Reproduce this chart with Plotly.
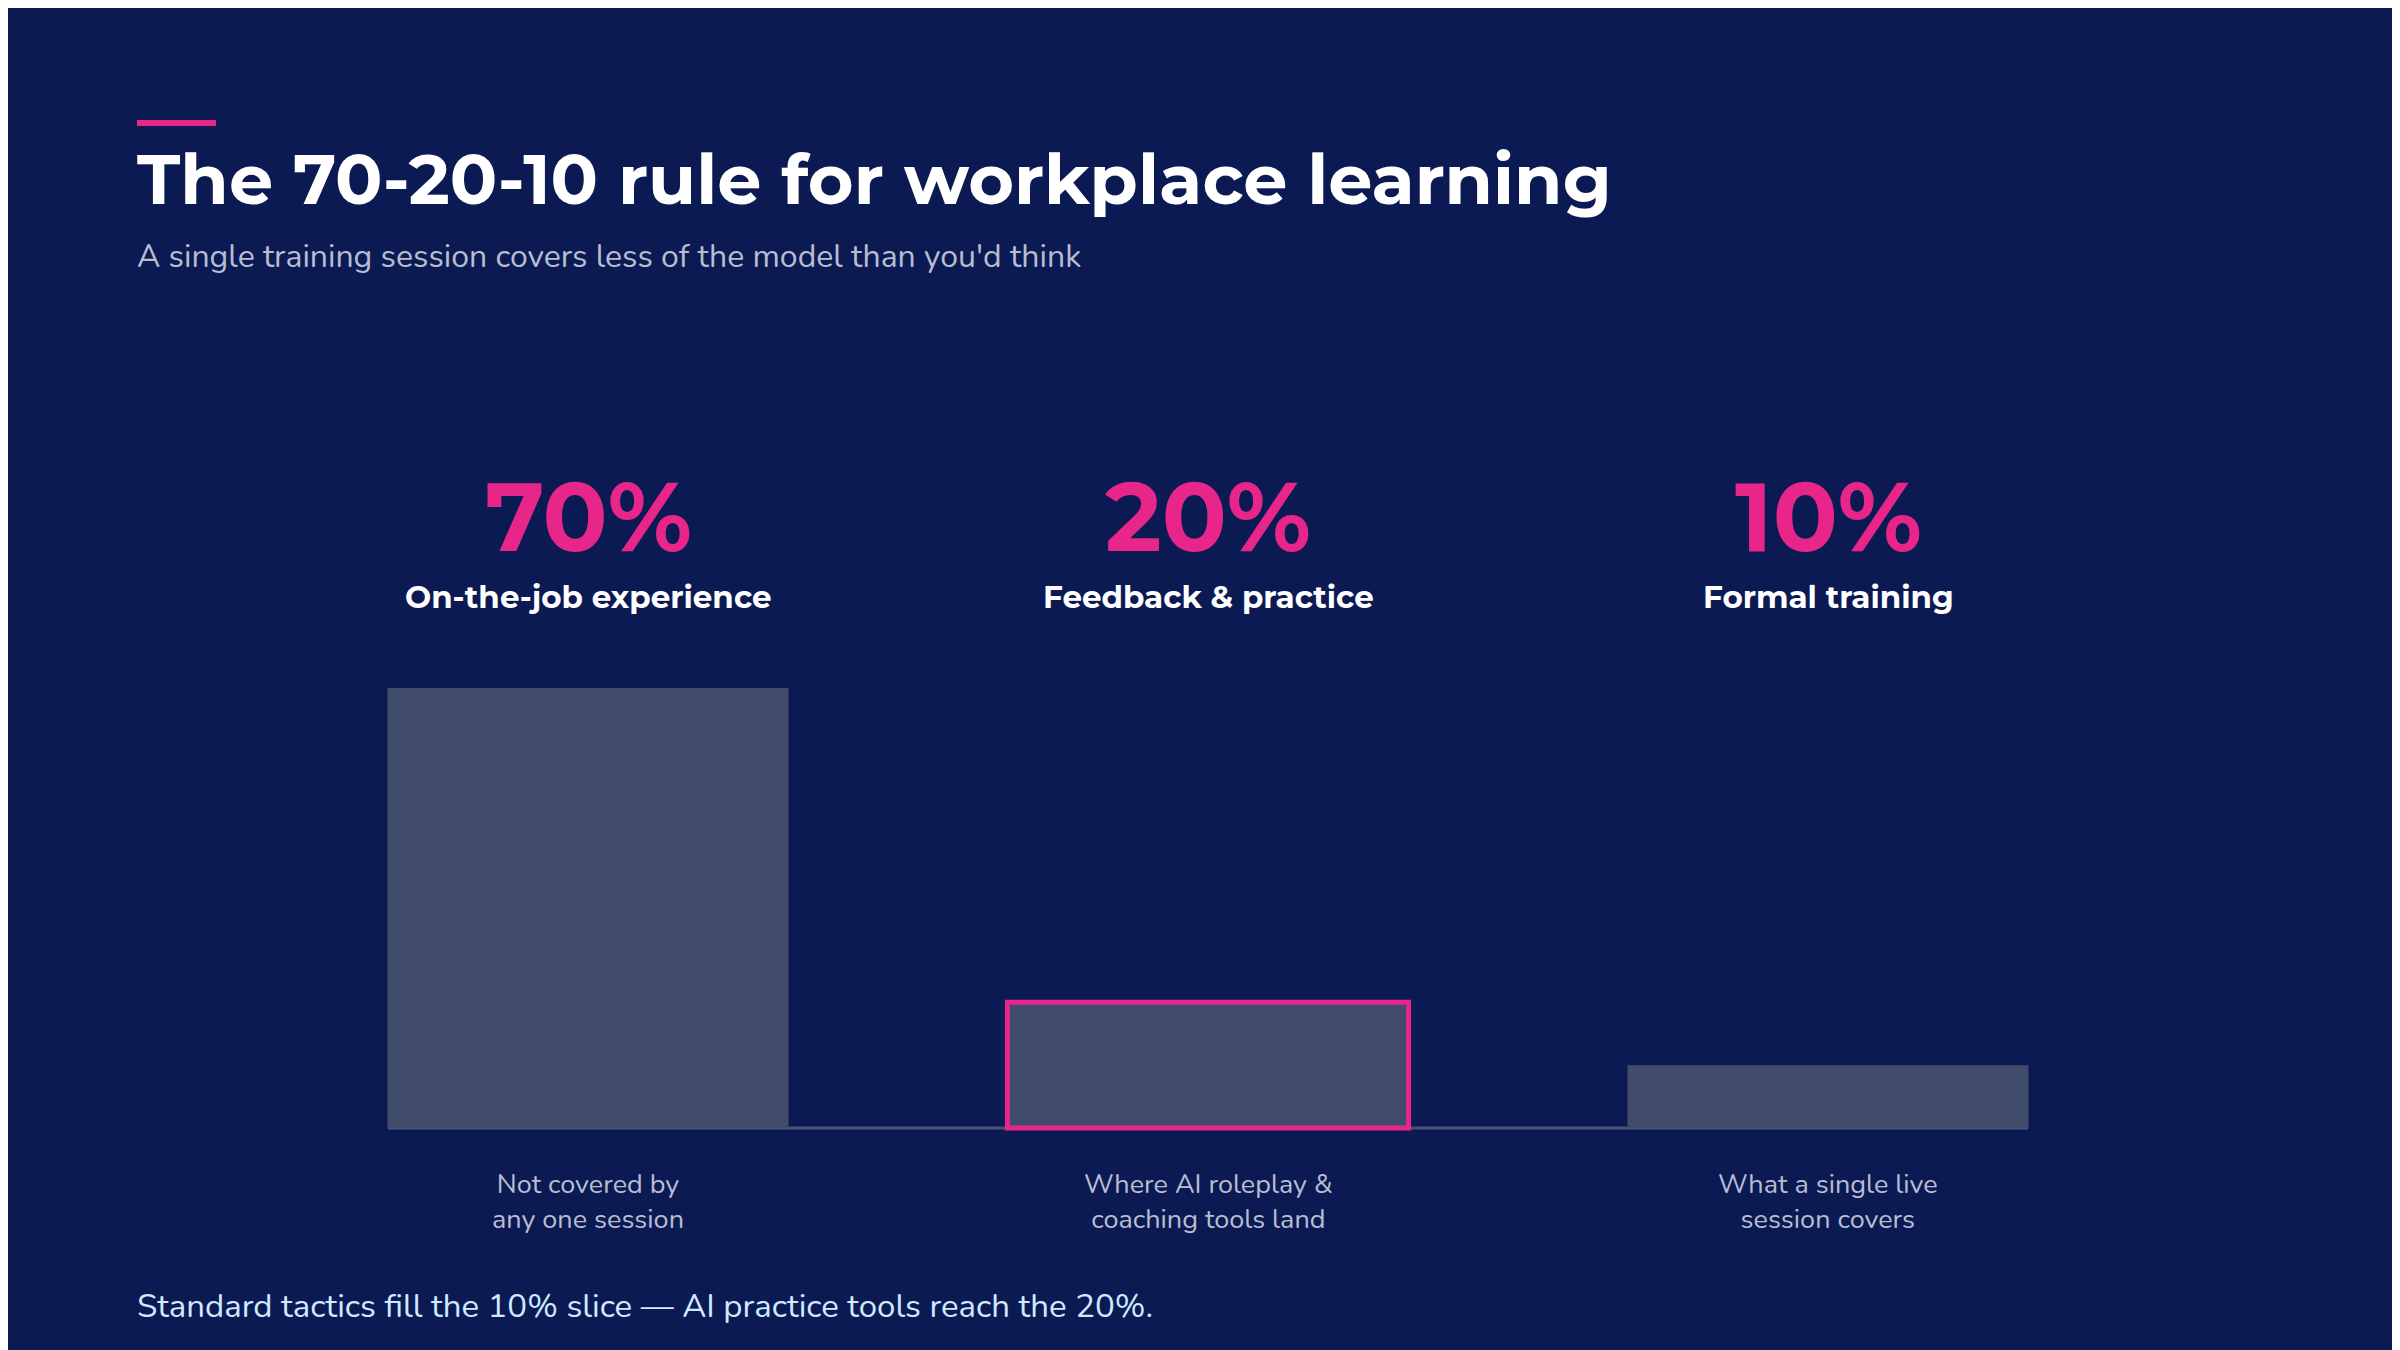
import plotly.graph_objects as go

categories = ["On-the-job experience", "Feedback & practice", "Formal training"]
values = [70, 20, 10]
pct_labels = ["70%", "20%", "10%"]
notes = ["Not covered by<br>any one session", "Where AI roleplay &<br>coaching tools land", "What a single live<br>session covers"]

W, H = 2400, 1350
BG = "#0c1a54"
PINK = "#e8268a"
BAR = "#414b6b"
FONT = "Nunito, Open Sans"

xs = list(range(len(categories)))
fig = go.Figure(go.Bar(
    x=xs, y=values, width=0.647, marker=dict(color=BAR,
        line=dict(color=[BAR, PINK, BAR], width=[0, 5, 0])),
    hoverinfo="skip"))

def py(px):
    return 1 - px / H

ann = []
for i, c in enumerate(categories):
    ann.append(dict(x=i, xref="x", y=py(508), yref="paper", yanchor="middle", text=f"<b>{pct_labels[i]}</b>",
                    font=dict(family="Montserrat, Inter", size=96, color=PINK), showarrow=False))
    ann.append(dict(x=i, xref="x", y=py(589), yref="paper", yanchor="middle", text=f"<b>{c}</b>",
                    font=dict(family="Montserrat, Inter", size=31, color="white"), showarrow=False))
    ann.append(dict(x=i, xref="x", y=py(1194), yref="paper", yanchor="middle", text=notes[i],
                    font=dict(family=FONT, size=27, color="#b8bdd0"), showarrow=False))
ann += [
    dict(x=127/W, xref="paper", y=py(171), yref="paper", xanchor="left", yanchor="middle", showarrow=False,
         text="<b>The 70-20-10 rule for workplace learning</b>",
         font=dict(family="Montserrat, Inter", size=70, color="white")),
    dict(x=127/W, xref="paper", y=py(248), yref="paper", xanchor="left", yanchor="middle", showarrow=False,
         text="A single training session covers less of the model than you'd think",
         font=dict(family=FONT, size=32, color="#b8bdd0")),
    dict(x=127/W, xref="paper", y=py(1298), yref="paper", xanchor="left", yanchor="middle", showarrow=False,
         text="Standard tactics fill the 10% slice — AI practice tools reach the 20%.",
         font=dict(family=FONT, size=33, color="#cfe9ff")),
]

shapes = [
    dict(type="line", xref="paper", yref="paper", x0=129/W, x1=208/W, y0=py(115), y1=py(115),
         line=dict(color=PINK, width=6)),
    dict(type="line", xref="x", yref="y", x0=-0.323, x1=2.323, y0=0, y1=0,
         line=dict(color="#4a5375", width=3), layer="below"),
]

ppu = 440 / 70
fig.update_layout(
    width=W, height=H, margin=dict(l=0, r=0, t=0, b=0),
    paper_bgcolor=BG, plot_bgcolor=BG, showlegend=False,
    xaxis=dict(range=[-580/620, (W-580)/620], visible=False, fixedrange=True),
    yaxis=dict(range=[-(H-1120)/ppu, 1120/ppu], visible=False, fixedrange=True),
    annotations=ann, shapes=shapes,
)
fig.write_html("out.html")
